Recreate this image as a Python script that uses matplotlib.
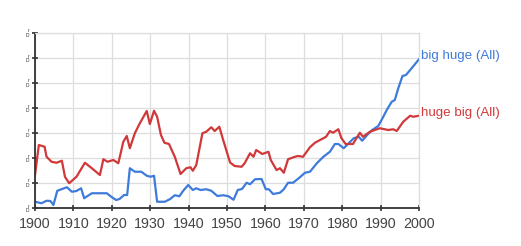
import matplotlib
matplotlib.use("Agg")
import matplotlib.pyplot as plt

plt.rcParams['font.family'] = ['Liberation Sans', 'DejaVu Sans']

# values (y in grid units, 0..7)
big_huge_years = [1900, 1901.7, 1903, 1904, 1904.8, 1905.8, 1908.3, 1909.6, 1910.8, 1912, 1912.8,
                  1914.8, 1918.7, 1919.6, 1921.1, 1922, 1923.2, 1924, 1924.7, 1926, 1927.7, 1929.1,
                  1930.1, 1931, 1931.8, 1933.8, 1935.1, 1936.4, 1937.6, 1938.6, 1939.9, 1941.1,
                  1942, 1943.1, 1944.6, 1945.9, 1947.5, 1949, 1950.4, 1951.7, 1952.8, 1953.9,
                  1955.1, 1956, 1957.3, 1959, 1960.1, 1960.9, 1962, 1963.8, 1964.8, 1965.9, 1967.2,
                  1969, 1970.3, 1971.6, 1973.4, 1975.1, 1976.8, 1978.1, 1979, 1980.4, 1981.7, 1983,
                  1984.3, 1985.2, 1986.5, 1987.8, 1989.4, 1990.7, 1991.6, 1992.9, 1993.7, 1994.6,
                  1995.7, 1996.6, 1997.7, 2000]
big_huge_vals = [0.25, 0.19, 0.29, 0.28, 0.12, 0.69, 0.83, 0.65, 0.68, 0.79, 0.39,
                 0.59, 0.59, 0.48, 0.32, 0.36, 0.52, 0.52, 1.59, 1.45, 1.45, 1.29,
                 1.25, 1.29, 0.25, 0.25, 0.35, 0.51, 0.47, 0.69, 0.92, 0.72,
                 0.79, 0.72, 0.75, 0.69, 0.48, 0.51, 0.47, 0.33, 0.72, 0.76,
                 1.01, 0.95, 1.15, 1.16, 0.75, 0.75, 0.56, 0.61, 0.75, 1.01, 1.01,
                 1.23, 1.41, 1.45, 1.79, 2.05, 2.25, 2.56, 2.56, 2.39, 2.59, 2.79,
                 2.85, 2.69, 2.92, 3.12, 3.28, 3.65, 3.92, 4.25, 4.32, 4.79,
                 5.28, 5.32, 5.52, 5.95]

huge_big_years = [1900, 1901, 1902.5, 1903, 1904.3, 1905.6, 1907, 1907.8, 1908.9, 1910.8, 1913,
                  1914.8, 1916.9, 1917.8, 1918.9, 1920.4, 1921.7, 1923, 1923.9, 1924.7, 1926,
                  1927.3, 1929.1, 1929.9, 1931, 1931.8, 1932.8, 1933.7, 1934.9, 1936.4, 1937.9,
                  1939.4, 1940.5, 1941.1, 1942, 1943.6, 1944.6, 1945.9, 1946.8, 1948, 1949,
                  1950.8, 1952, 1953.8, 1954.6, 1956, 1956.9, 1957.6, 1959.2, 1960.8, 1961.4,
                  1962.9, 1963.8, 1964.8, 1965.9, 1967.7, 1968.5, 1969.8, 1971.6, 1972.9, 1974.6,
                  1975.8, 1976.8, 1977.6, 1979, 1979.8, 1980.9, 1982.8, 1984.6, 1985.4, 1987.2,
                  1989.8, 1992, 1993.3, 1994.2, 1995.9, 1997.7, 1998.5, 2000]
huge_big_vals = [1.32, 2.52, 2.45, 2.05, 1.85, 1.81, 1.89, 1.25, 0.99, 1.25, 1.81,
                 1.59, 1.32, 1.95, 1.85, 1.92, 1.79, 2.65, 2.88, 2.39, 2.99,
                 3.39, 3.88, 3.36, 3.89, 3.65, 2.92, 2.61, 2.56, 2.05, 1.36,
                 1.59, 1.63, 1.49, 1.72, 2.99, 3.05, 3.23, 3.08, 3.25, 2.72,
                 1.82, 1.68, 1.65, 1.79, 2.19, 2.05, 2.32, 2.16, 2.25, 1.92,
                 1.52, 1.59, 1.41, 1.95, 2.05, 2.08, 2.05, 2.43, 2.61, 2.75,
                 2.85, 3.08, 3.01, 3.15, 2.79, 2.56, 2.56, 3.01, 2.85, 3.05,
                 3.19, 3.12, 3.15, 3.08, 3.45, 3.69, 3.65, 3.69]

x_ticks = list(range(1900, 2001, 10))
y_ticks = list(range(0, 8))

blue = "#3f7bdb"
red = "#d0383a"

fig = plt.figure(figsize=(5.21, 2.46), dpi=100)
ax = fig.add_axes([35 / 521, 1 - 208 / 246, 384 / 521, 175 / 246])

ax.plot(big_huge_years, big_huge_vals, color=blue, lw=1.6, solid_joinstyle="round")
ax.plot(huge_big_years, huge_big_vals, color=red, lw=1.6, solid_joinstyle="round")

ax.set_xlim(1900, 2000)
ax.set_ylim(0, 7)
ax.set_xticks(x_ticks)
ax.set_xticklabels([str(t) for t in x_ticks], fontsize=10.3, color="#444444")
ax.set_yticks(y_ticks)
ax.set_yticklabels(["r\nD"] * len(y_ticks), fontsize=3.5, color="#333333", linespacing=0.9)
ax.tick_params(axis="both", direction="inout", length=5, width=1.2, color="#333333", pad=2)
ax.tick_params(axis="x", pad=4)
ax.grid(True, color="#dddddd", lw=0.9)
ax.set_axisbelow(True)

for side in ["left", "bottom"]:
    ax.spines[side].set_color("#333333")
    ax.spines[side].set_linewidth(1.3)
for side in ["top", "right"]:
    ax.spines[side].set_color("#dddddd")
    ax.spines[side].set_linewidth(0.9)

ax.text(2000.6, big_huge_vals[-1] + 0.12, "big huge (All)", color=blue, fontsize=9.6,
        va="center", ha="left", clip_on=False)
ax.text(2000.6, huge_big_vals[-1] + 0.12, "huge big (All)", color=red, fontsize=9.6,
        va="center", ha="left", clip_on=False)

fig.savefig("out.png", dpi=100)
